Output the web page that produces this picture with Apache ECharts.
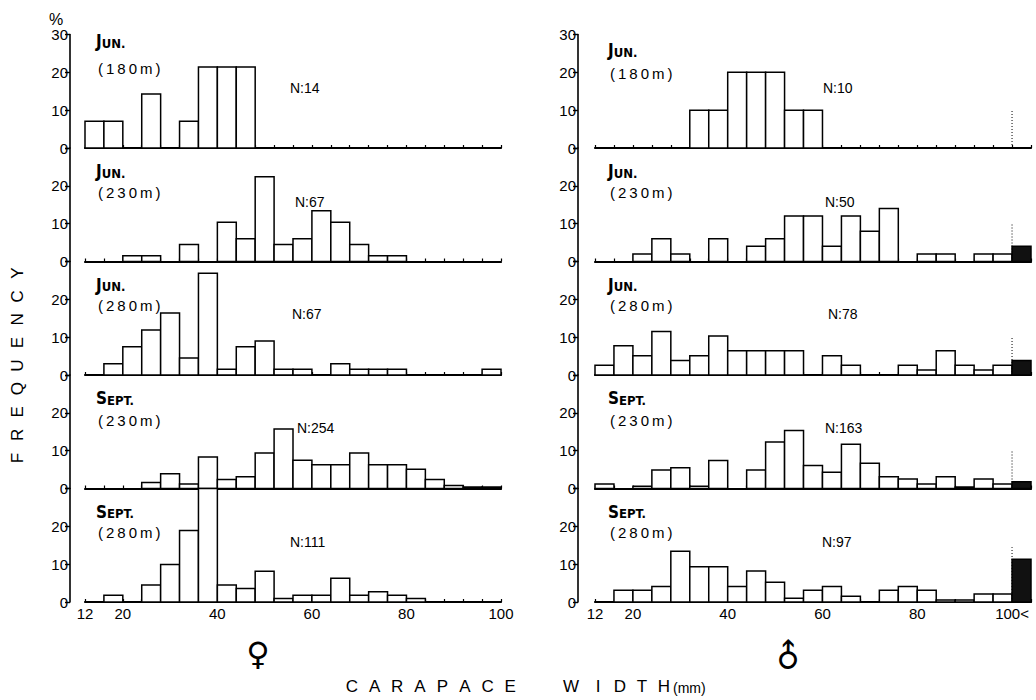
<!DOCTYPE html>
<html>
<head>
<meta charset="utf-8">
<script src="https://cdn.jsdelivr.net/npm/echarts@6/dist/echarts.min.js"></script>
<style>
html,body{margin:0;padding:0;background:#fff;}
#chart{width:1036px;height:700px;}
</style>
</head>
<body>
<div id="chart"></div>
<script>
// ---------- DATA ----------
// bin lower edges (mm); each bin is 4 mm wide; 100 = ">100" bin (males only)
const binStarts = [12,16,20,24,28,32,36,40,44,48,52,56,60,64,68,72,76,80,84,88,92,96,100];
const binWidth = 4;

const months = ['JUN.', 'JUN.', 'JUN.', 'SEPT.', 'SEPT.'];
const depths = ['(180m)', '(230m)', '(280m)', '(230m)', '(280m)'];
const femaleN = [14, 67, 67, 254, 111];
const maleN = [10, 50, 78, 163, 97];

// Female (♀) frequency %, 22 bins 12–100 mm
const femaleJun180  = [7.1,7.1,0,14.3,0,7.1,21.4,21.4,21.4,0,0,0,0,0,0,0,0,0,0,0,0,0];
const femaleJun230  = [0,0,1.5,1.5,0,4.5,0,10.4,6.0,22.4,4.5,6.0,13.4,10.4,4.5,1.5,1.5,0,0,0,0,0];
const femaleJun280  = [0,3.0,7.5,11.9,16.4,4.5,26.9,1.5,7.5,9.0,1.5,1.5,0,3.0,1.5,1.5,1.5,0,0,0,0,1.5];
const femaleSept230 = [0,0,0,1.6,3.9,1.2,8.3,2.4,3.1,9.4,15.7,7.5,6.3,6.3,9.4,6.3,6.3,5.1,2.4,0.8,0.4,0.4];
const femaleSept280 = [0,1.8,0,4.5,9.9,18.9,31.5,4.5,3.6,8.1,0.9,1.8,1.8,6.3,1.8,2.7,1.8,0.9,0,0,0,0];

// Male (♂) frequency %, 23 bins 12–100 mm plus ">100" (last value, black bar)
const maleJun180  = [0,0,0,0,0,10,10,20,20,20,10,10,0,0,0,0,0,0,0,0,0,0,0];
const maleJun230  = [0,0,2,6,2,0,6,0,4,6,12,12,4,12,8,14,0,2,2,0,2,2,4];
const maleJun280  = [2.6,7.7,5.1,11.5,3.8,5.1,10.3,6.4,6.4,6.4,6.4,0,5.1,2.6,0,0,2.6,1.3,6.4,2.6,1.3,2.6,3.8];
const maleSept230 = [1.2,0,0.6,4.9,5.5,0.6,7.4,0,4.9,12.3,15.3,6.1,4.3,11.7,6.7,3.1,2.5,1.2,3.1,0.4,2.5,1.2,1.8];
const maleSept280 = [0,3.1,3.1,4.1,13.4,9.3,9.3,4.1,8.2,5.2,1.0,3.1,4.1,1.5,0,3.1,4.1,3.1,0.5,0.5,2.1,2.1,11.3];

// height (%) of the dotted marker at 100 mm in male panels
const maleMarkerHeights = [10, 10, 10, 10, 14.5];

const yTicks = [0, 10, 20, 30];
const xTickLabels = [12, 20, 40, 60, 80, 100];

const femaleSeries = [femaleJun180, femaleJun230, femaleJun280, femaleSept230, femaleSept280];
const maleSeries = [maleJun180, maleJun230, maleJun280, maleSept230, maleSept280];

// ---------- LAYOUT ----------
const zeroLines = [148, 261.5, 375, 488.5, 602];
const rowH = 113.5;
const FONT = "'Liberation Sans', Arial, sans-serif";
const COND = "'DejaVu Sans Condensed', 'Liberation Sans Narrow', 'DejaVu Sans', sans-serif";

const grids = [], xAxes = [], yAxes = [], series = [], graphics = [];

function renderBar(params, api) {
  const x0 = api.value(0), v = api.value(1), dark = api.value(2);
  if (!v) return null;
  const top = api.coord([x0, v]);
  const base = api.coord([x0 + binWidth, 0]);
  const cs = params.coordSys;
  const y = Math.max(top[1], cs.y);
  return {
    type: 'rect',
    shape: { x: top[0], y: y, width: base[0] - top[0], height: base[1] - y },
    style: { fill: dark ? '#111' : '#fff', stroke: '#000', lineWidth: 1.5 }
  };
}

function addPanel(col, row) {
  const isMale = col === 1;
  const idx = grids.length;
  const left = isMale ? 595 : 85;
  const width = isMale ? 436 : 416;
  grids.push({ left: left, top: zeroLines[row] - rowH, width: width, height: rowH });
  const bottom = row === 4;
  xAxes.push({
    type: 'value', gridIndex: idx, min: 12, max: isMale ? 104 : 100, interval: 4,
    axisLine: { show: true, lineStyle: { color: '#000', width: 2.2 } },
    axisTick: { show: true, inside: true, length: 3, lineStyle: { color: '#000', width: 1.2 } },
    splitLine: { show: false },
    axisLabel: {
      show: bottom, color: '#000', fontFamily: FONT, fontSize: 15, margin: 4,
      showMaxLabel: true,
      formatter: function (v) {
        if (xTickLabels.indexOf(v) < 0) return '';
        if (v === 100 && isMale) return '100<';
        return String(v);
      }
    }
  });
  yAxes.push({
    type: 'value', gridIndex: idx, min: 0, max: 30, interval: 10,
    offset: isMale ? 17 : 15,
    axisLine: { show: true, lineStyle: { color: '#000', width: 1.6 } },
    axisTick: { show: true, length: 5, lineStyle: { color: '#000', width: 1.4 } },
    splitLine: { show: false },
    axisLabel: {
      color: '#000', fontFamily: FONT, fontSize: 15, margin: 2,
      formatter: function (v) {
        if (yTicks.indexOf(v) < 0) return '';
        if (v === 30 && row !== 0) return '';
        return String(v);
      }
    }
  });
  const vals = isMale ? maleSeries[row] : femaleSeries[row];
  const data = vals.map(function (v, i) {
    return [binStarts[i], v, (isMale && i === vals.length - 1) ? 1 : 0];
  });
  series.push({
    type: 'custom', xAxisIndex: idx, yAxisIndex: idx,
    renderItem: renderBar, data: data, encode: { x: 0, y: 1 },
    silent: true
  });
  if (isMale) {
    series.push({
      type: 'line', xAxisIndex: idx, yAxisIndex: idx, symbol: 'none', silent: true,
      data: [[100, 0], [100, maleMarkerHeights[row]]],
      lineStyle: { color: '#000', width: 1, type: [1, 2] }
    });
  }

  // panel texts
  const top = zeroLines[row] - rowH;
  const mx = isMale ? 608 : 96;
  const monthOffset = row === 0 ? (isMale ? 15.5 : 6.5) : 23;
  const depthOffset = row === 0 ? (isMale ? 38.5 : 34) : (row === 3 ? 45 : 44);
  const m = months[row];
  graphics.push({
    type: 'text', x: mx, y: top + monthOffset,
    style: {
      text: '{a|' + m.charAt(0) + '}{b|' + m.slice(1) + '}',
      verticalAlign: 'middle',
      rich: {
        a: { fontFamily: COND, fontWeight: 'bold', fontSize: 17, fill: '#000', color: '#000' },
        b: { fontFamily: COND, fontWeight: 'bold', fontSize: 13, fill: '#000', color: '#000', verticalAlign: 'bottom' }
      }
    }
  });
  graphics.push({
    type: 'text', x: mx + 2, y: top + depthOffset,
    style: {
      text: depths[row].split('').join('\u2009'),
      fontFamily: FONT, fontSize: 15, fill: '#000', verticalAlign: 'middle'
    }
  });
  const nOff = [53, 54, 52.5, 53, 53][row];
  const nx = isMale ? [823, 825, 828, 825, 822][row] : [290, 295, 292, 297, 290][row];
  graphics.push({
    type: 'text', x: nx, y: top + nOff,
    style: {
      text: 'N:' + (isMale ? maleN[row] : femaleN[row]),
      fontFamily: FONT, fontSize: 14, fill: '#000', verticalAlign: 'middle'
    }
  });
}

for (let r = 0; r < 5; r++) { addPanel(0, r); addPanel(1, r); }

// axis unit
graphics.push({ type: 'text', x: 56, y: 19, style: { text: '%', fontFamily: FONT, fontSize: 16, fill: '#000', align: 'center', verticalAlign: 'middle' } });

// FREQUENCY (rotated, letter spaced)
const freqWord = 'FREQUENCY';
for (let i = 0; i < freqWord.length; i++) {
  graphics.push({
    type: 'text', x: 17, y: 458 - i * 23.1, rotation: Math.PI / 2,
    style: { text: freqWord.charAt(i), fontFamily: FONT, fontSize: 17, fill: '#000', align: 'center', verticalAlign: 'middle' }
  });
}

// CARAPACE WIDTH(mm)
const capWord = 'CARAPACE';
for (let i = 0; i < capWord.length; i++) {
  graphics.push({
    type: 'text', x: 352 + i * 22.6, y: 686,
    style: { text: capWord.charAt(i), fontFamily: FONT, fontSize: 17, fill: '#000', align: 'center', verticalAlign: 'middle' }
  });
}
const widthWord = 'WIDTH';
const widthX = [571, 598, 620, 642, 664];
for (let i = 0; i < widthWord.length; i++) {
  graphics.push({
    type: 'text', x: widthX[i], y: 686,
    style: { text: widthWord.charAt(i), fontFamily: FONT, fontSize: 17, fill: '#000', align: 'center', verticalAlign: 'middle' }
  });
}
graphics.push({ type: 'text', x: 673, y: 688, style: { text: '(mm)', fontFamily: FONT, fontSize: 14, fill: '#000', align: 'left', verticalAlign: 'middle' } });

// sex symbols
graphics.push({ type: 'text', x: 258, y: 654, style: { text: '♀', fontFamily: "'DejaVu Sans', sans-serif", fontSize: 32, fill: '#000', align: 'center', verticalAlign: 'middle' } });
graphics.push({ type: 'text', x: 788, y: 656, rotation: Math.PI / 4, originX: 0, originY: 0,
  style: { text: '♂', fontFamily: "'DejaVu Sans', sans-serif", fontSize: 32, fill: '#000', align: 'center', verticalAlign: 'middle' } });

const chart = echarts.init(document.getElementById('chart'), null, { renderer: 'svg', width: 1036, height: 700 });
chart.setOption({
  backgroundColor: '#fff',
  animation: false,
  grid: grids,
  xAxis: xAxes,
  yAxis: yAxes,
  series: series,
  graphic: graphics
});
</script>
</body>
</html>
